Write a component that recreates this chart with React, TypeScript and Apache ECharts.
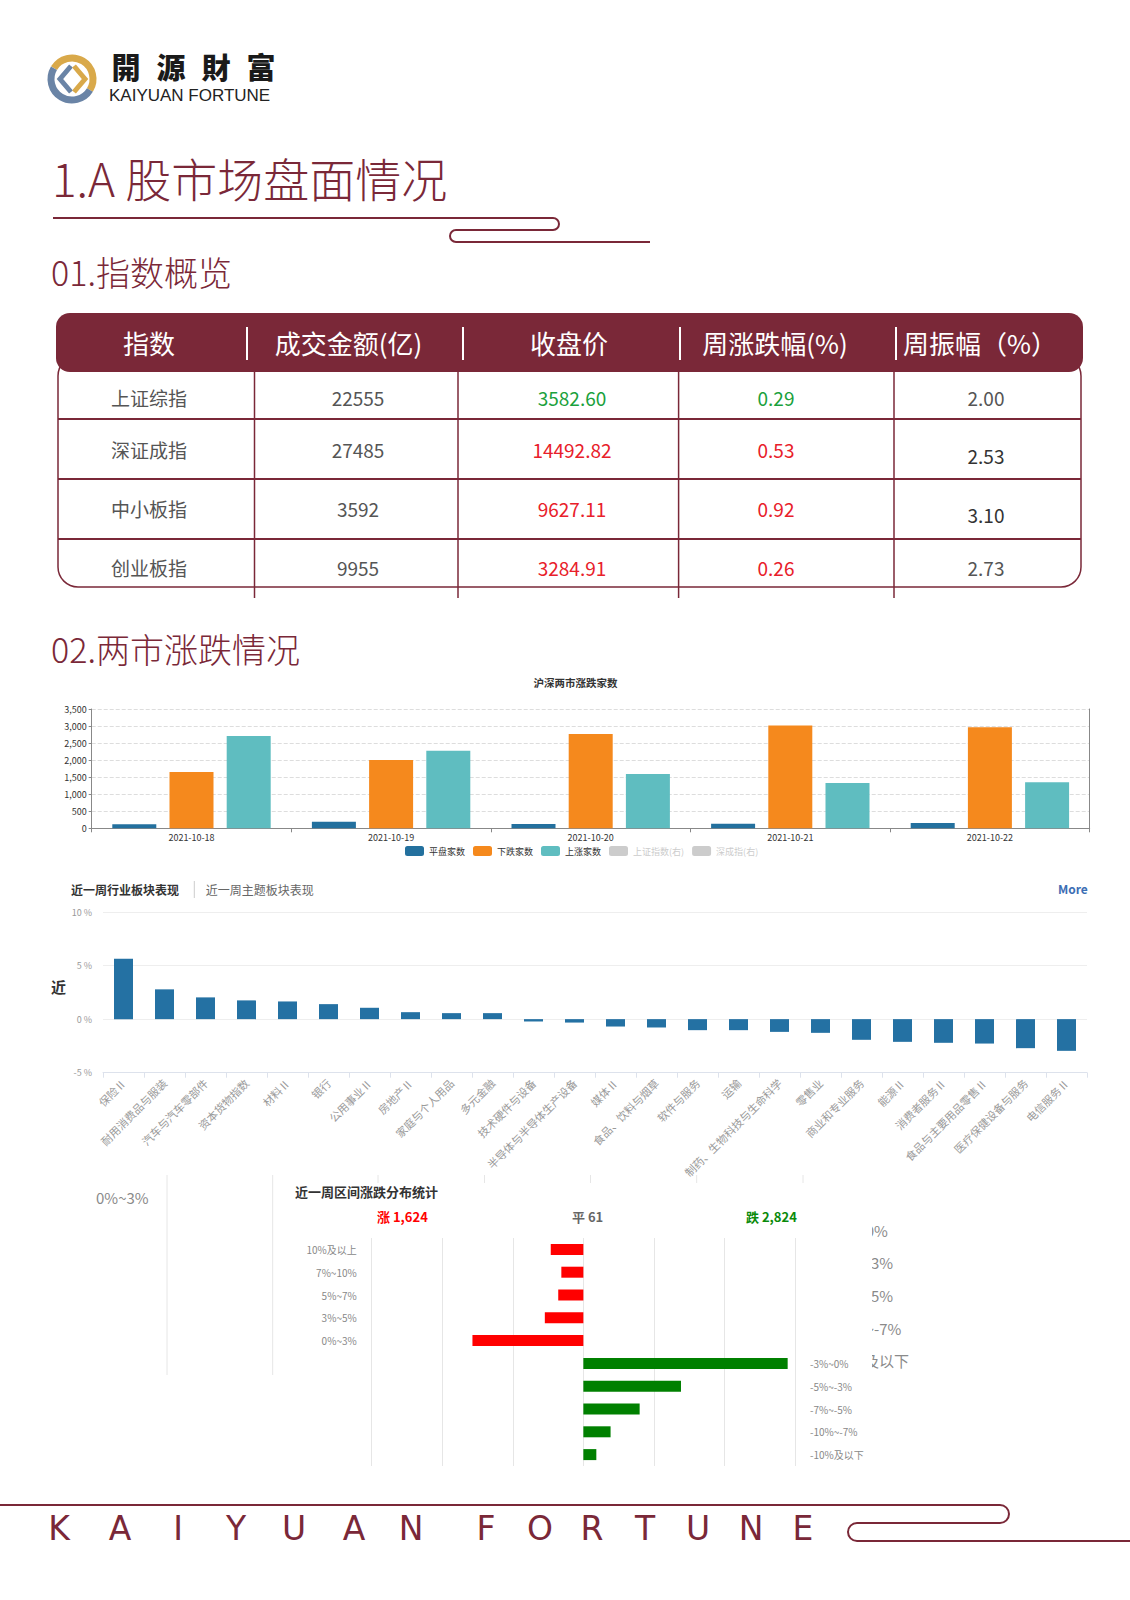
import React, { useEffect, useRef } from 'react';
import * as echarts from 'echarts';

const MAROON = '#7a2838';
const FONT = '"Noto Sans CJK SC", "Noto Sans", sans-serif';

// ---- Table data ----
const tableHeaders = ['指数', '成交金额(亿)', '收盘价', '周涨跌幅(%)', '周振幅（%）'];
const indexNames = ['上证综指', '深证成指', '中小板指', '创业板指'];
const turnover = ['22555', '27485', '3592', '9955'];
const closePrices = ['3582.60', '14492.82', '9627.11', '3284.91'];
const weekChange = ['0.29', '0.53', '0.92', '0.26'];
const amplitude = ['2.00', '2.53', '3.10', '2.73'];
const valueColors = ['#1aa13c', '#e8202a', '#e8202a', '#e8202a'];

// ---- Chart 1: 沪深两市涨跌家数 ----
const tradeDates = ['2021-10-18', '2021-10-19', '2021-10-20', '2021-10-21', '2021-10-22'];
const flatCounts = [117, 195, 126, 137, 155];
const downCounts = [1650, 2001, 2763, 3018, 2968];
const upCounts = [2705, 2276, 1591, 1327, 1348];
const marketLegend = ['平盘家数', '下跌家数', '上涨家数', '上证指数(右)', '深成指(右)'];

// ---- Chart 2: 近一周行业板块表现 ----
const industries = ['保险Ⅱ', '耐用消费品与服装', '汽车与汽车零部件', '资本货物指数', '材料Ⅱ', '银行', '公用事业Ⅱ', '房地产Ⅱ', '家庭与个人用品', '多元金融', '技术硬件与设备', '半导体与半导体生产设备', '媒体Ⅱ', '食品、饮料与烟草', '软件与服务', '运输', '制药、生物科技与生命科学', '零售业', '商业和专业服务', '能源Ⅱ', '消费者服务Ⅱ', '食品与主要用品零售Ⅱ', '医疗保健设备与服务', '电信服务Ⅱ'];
const industryChanges = [5.64, 2.78, 2.03, 1.75, 1.65, 1.4, 1.06, 0.65, 0.56, 0.56, -0.22, -0.32, -0.69, -0.78, -1.03, -1.03, -1.19, -1.28, -1.93, -2.12, -2.21, -2.28, -2.71, -2.96];

// ---- Chart 3: 近一周区间涨跌分布统计 ----
const rangeLabels = ['10%及以上', '7%~10%', '5%~7%', '3%~5%', '0%~3%', '-3%~0%', '-5%~-3%', '-7%~-5%', '-10%~-7%', '-10%及以下'];
const riseCounts = [231, 156, 178, 273, 786];
const fallCounts = [1448, 692, 399, 193, 92];
const riseTotal = 1624;
const flatTotal = 61;
const fallTotal = 2824;
const ghostRightLabels = ['-3%~0%', '-5%~-3%', '-7%~-5%', '-10%~-7%', '及以下'];

const footerLetters = ['K', 'A', 'I', 'Y', 'U', 'A', 'N', 'F', 'O', 'R', 'T', 'U', 'N', 'E'];

echarts.graphic.registerShape(
  'titleDeco',
  echarts.graphic.extendPath('M53 218 L553 218 A6 6 0 0 1 553 230 L456 230 A6 6 0 0 0 456 242 L650 242', {})
);
echarts.graphic.registerShape(
  'footDeco',
  echarts.graphic.extendPath('M0 1505 L1000 1505 A9 9 0 0 1 1000 1523 L857 1523 A9 9 0 0 0 857 1541 L1130 1541', {})
);

function txt(text: string, x: number, y: number, size: number, color: string, o: any = {}) {
  const align = o.align || 'left';
  return {
    type: 'text',
    z: o.z ?? 10,
    silent: true,
    style: {
      text,
      x,
      y,
      fill: color,
      font: `${o.weight || 'normal'} ${size}px ${o.family || FONT}`,
      align,
      verticalAlign: 'middle',
      textAlign: align,
      textVerticalAlign: 'middle',
    },
  };
}

function line(x1: number, y1: number, x2: number, y2: number, color: string, w: number, z = 10) {
  return { type: 'line', z, silent: true, shape: { x1, y1, x2, y2 }, style: { stroke: color, lineWidth: w } };
}

function buildGraphics() {
  const g: any[] = [];
  // Logo
  g.push({ type: 'arc', z: 10, shape: { cx: 72, cy: 79, r: 21, startAngle: -2.6, endAngle: 0.55, clockwise: true }, style: { stroke: '#d9a94a', lineWidth: 7, fill: 'none' } });
  g.push({ type: 'arc', z: 10, shape: { cx: 72, cy: 79, r: 21, startAngle: 0.55, endAngle: 3.68, clockwise: true }, style: { stroke: '#6a84a6', lineWidth: 7, fill: 'none' } });
  g.push({ type: 'polyline', z: 10, shape: { points: [[71, 66], [60, 79], [71, 92]] }, style: { stroke: '#6a84a6', lineWidth: 5, fill: 'none' } });
  g.push({ type: 'polyline', z: 10, shape: { points: [[74, 66], [85, 79], [74, 92]] }, style: { stroke: '#d9a94a', lineWidth: 5, fill: 'none' } });
  ['開', '源', '財', '富'].forEach((c, i) => g.push(txt(c, 126 + i * 45, 66, 29, '#1a1a1a', { align: 'center', weight: '900', family: '"Noto Sans CJK TC", sans-serif' })));
  g.push(txt('KAIYUAN FORTUNE', 109, 95.5, 17, '#222', { family: '"Liberation Sans", sans-serif' }));

  // Titles
  g.push(txt('1.A 股市场盘面情况', 52, 177, 46, MAROON, { weight: '300' }));
  g.push({ type: 'titleDeco', z: 10, style: { stroke: MAROON, lineWidth: 2, fill: 'none' } });
  g.push(txt('01.指数概览', 51, 271, 34, MAROON, { weight: '300' }));
  g.push(txt('02.两市涨跌情况', 51, 648, 34, MAROON, { weight: '300' }));

  // Table body outline
  g.push({ type: 'rect', z: 8, shape: { x: 58, y: 356, width: 1023, height: 231, r: 20 }, style: { stroke: MAROON, lineWidth: 1.5, fill: 'none' } });
  // Header
  g.push({ type: 'rect', z: 9, shape: { x: 56, y: 313, width: 1027, height: 59, r: 14 }, style: { fill: MAROON } });
  const headX = [149, 348.5, 569, 775, 980];
  tableHeaders.forEach((h, i) => g.push(txt(h, headX[i], 342, 26, '#fff', { align: 'center' })));
  [247, 463, 680, 896].forEach((x) => g.push(line(x, 327, x, 360, '#fff', 2)));
  [419, 479, 539].forEach((y) => g.push(line(58, y, 1081, y, MAROON, 2)));
  [254.5, 458, 678.6, 894].forEach((x) => g.push(line(x, 372, x, 598, MAROON, 1.5)));
  const rowY = [397.5, 449.5, 508.5, 567.5];
  const ampDy = [0, 6, 6, 0];
  const colX = [149, 358, 572, 776, 986];
  indexNames.forEach((n, r) => {
    g.push(txt(n, colX[0], rowY[r], 19, '#555', { align: 'center' }));
    g.push(txt(turnover[r], colX[1], rowY[r], 19, '#555', { align: 'center' }));
    g.push(txt(closePrices[r], colX[2], rowY[r], 19, valueColors[r], { align: 'center' }));
    g.push(txt(weekChange[r], colX[3], rowY[r], 19, valueColors[r], { align: 'center' }));
    g.push(txt(amplitude[r], colX[4], rowY[r] + ampDy[r], 19, ampDy[r] ? '#333' : '#555', { align: 'center' }));
  });

  // Chart 1 title
  g.push(txt('沪深两市涨跌家数', 575.5, 682, 10.5, '#333', { align: 'center', weight: 'bold' }));

  // Chart 2 header
  g.push(txt('近一周行业板块表现', 71, 889, 12, '#333', { weight: 'bold' }));
  g.push(line(194.3, 881, 194.3, 898, '#ccc', 1));
  g.push(txt('近一周主题板块表现', 205.7, 889, 12, '#666'));
  g.push(txt('More', 1058, 888, 12, '#3c6eb4', { weight: 'bold' }));
  g.push(txt('近', 51, 986, 15, '#333', { weight: 'bold' }));

  // Ghost chart behind distribution chart
  [167, 272.7, 378, 484.5, 590.5, 696.7, 803].forEach((x) => g.push(line(x, 1175, x, 1375, '#e6e6e6', 1, -10)));
  g.push(txt('0%~3%', 96, 1197, 15, '#8a8a8a', { z: -10 }));
  const ghostY = [1230, 1262, 1295, 1328, 1360];
  const ghostX = [830, 830, 830, 830, 864];
  ghostRightLabels.forEach((t, i) => g.push(txt(t, ghostX[i], ghostY[i], 15, '#8a8a8a', { z: -10 })));
  g.push({ type: 'rect', z: -5, silent: true, shape: { x: 285, y: 1183, width: 587, height: 297 }, style: { fill: '#fff' } });

  // Distribution chart header
  g.push(txt('近一周区间涨跌分布统计', 295, 1191, 13, '#333', { weight: 'bold' }));
  g.push(txt(`涨 ${riseTotal.toLocaleString('en-US')}`, 377, 1216, 13, '#ff0000', { weight: 'bold' }));
  g.push(txt(`平 ${flatTotal.toLocaleString('en-US')}`, 572, 1216, 13, '#666', { weight: 'bold' }));
  g.push(txt(`跌 ${fallTotal.toLocaleString('en-US')}`, 746, 1216, 13, '#0a8a0a', { weight: 'bold' }));

  // Footer
  g.push({ type: 'footDeco', z: 10, style: { stroke: MAROON, lineWidth: 2, fill: 'none' } });
  const letterX = [59, 120, 178, 236, 294, 354, 411, 486, 540, 592, 645, 698, 751, 803];
  footerLetters.forEach((c, i) => g.push(txt(c, letterX[i], 1528, 33, MAROON, { align: 'center', family: '"DejaVu Sans", sans-serif' })));
  return g;
}

export default function App() {
  const ref = useRef<HTMLDivElement>(null);
  useEffect(() => {
    if (!ref.current) return;
    const chart = echarts.init(ref.current, undefined, { renderer: 'svg' });
    const option: any = {
      animation: false,
      backgroundColor: '#fff',
      textStyle: { fontFamily: FONT },
      graphic: { elements: buildGraphics() },
      legend: {
        left: 400,
        top: 841,
        icon: 'roundRect',
        itemWidth: 19,
        itemHeight: 10,
        itemGap: 8,
        inactiveColor: '#ccc',
        textStyle: { fontSize: 9, color: '#333' },
        data: marketLegend,
        selected: { '上证指数(右)': false, '深成指(右)': false },
      },
      grid: [
        { left: 91.7, top: 709, width: 998, height: 119.3 },
        { left: 103, top: 912, width: 984, height: 160.7 },
        { left: 371.7, top: 1238, width: 423.3, height: 228 },
      ],
      xAxis: [
        {
          type: 'category',
          gridIndex: 0,
          data: tradeDates,
          axisLine: { lineStyle: { color: '#888' } },
          axisTick: { show: true, length: 4, lineStyle: { color: '#888' } },
          axisLabel: { fontSize: 9, color: '#333', margin: 5 },
        },
        {
          type: 'category',
          gridIndex: 1,
          data: industries,
          axisLine: { onZero: false, lineStyle: { color: '#dde2ec' } },
          axisTick: { show: true, length: 5, lineStyle: { color: '#dde2ec' } },
          axisLabel: { rotate: 45, interval: 0, fontSize: 11, color: '#9a9a9a', margin: 8 },
        },
        {
          type: 'value',
          gridIndex: 2,
          min: -1500,
          max: 1500,
          interval: 500,
          axisLabel: { show: false },
          axisLine: { show: false },
          axisTick: { show: false },
          splitLine: { lineStyle: { color: '#e6e6e6' } },
        },
      ],
      yAxis: [
        {
          type: 'value',
          gridIndex: 0,
          min: 0,
          max: 3500,
          interval: 500,
          axisLine: { show: true, lineStyle: { color: '#888' } },
          axisTick: { show: true, length: 3, lineStyle: { color: '#888' } },
          axisLabel: { fontSize: 9, color: '#333', margin: 5, formatter: (v: number) => v.toLocaleString('en-US') },
          splitLine: { lineStyle: { color: '#ddd', type: 'dashed' } },
        },
        {
          type: 'value',
          gridIndex: 0,
          position: 'right',
          min: 0,
          max: 1,
          axisLine: { show: true, lineStyle: { color: '#888' } },
          axisTick: { show: false },
          axisLabel: { show: false },
          splitLine: { show: false },
        },
        {
          type: 'value',
          gridIndex: 1,
          min: -5,
          max: 10,
          interval: 5,
          axisLine: { show: false },
          axisTick: { show: false },
          axisLabel: { fontSize: 9, color: '#999', margin: 11, formatter: (v: number) => `${v} %` },
          splitLine: { lineStyle: { color: '#eeeeee' } },
        },
        {
          type: 'category',
          gridIndex: 2,
          inverse: true,
          data: rangeLabels,
          axisLine: { show: false },
          axisTick: { show: false },
          axisLabel: { fontSize: 10, color: '#888', margin: 15, interval: 0, formatter: (v: string, i: number) => (i < 5 ? v : '') },
        },
        {
          type: 'category',
          gridIndex: 2,
          position: 'right',
          inverse: true,
          data: rangeLabels,
          axisLine: { show: false },
          axisTick: { show: false },
          axisLabel: { fontSize: 10, color: '#888', margin: 15, interval: 0, formatter: (v: string, i: number) => (i >= 5 ? v : '') },
        },
      ],
      series: [
        { name: '平盘家数', type: 'bar', xAxisIndex: 0, yAxisIndex: 0, data: flatCounts, barWidth: 44, barGap: '30%', itemStyle: { color: '#23709e' } },
        { name: '下跌家数', type: 'bar', xAxisIndex: 0, yAxisIndex: 0, data: downCounts, barWidth: 44, barGap: '30%', itemStyle: { color: '#f5891d' } },
        { name: '上涨家数', type: 'bar', xAxisIndex: 0, yAxisIndex: 0, data: upCounts, barWidth: 44, barGap: '30%', itemStyle: { color: '#5fbdc0' } },
        { name: '上证指数(右)', type: 'line', xAxisIndex: 0, yAxisIndex: 1, data: [], itemStyle: { color: '#bbb' } },
        { name: '深成指(右)', type: 'line', xAxisIndex: 0, yAxisIndex: 1, data: [], itemStyle: { color: '#bbb' } },
        { name: '行业涨跌幅', type: 'bar', xAxisIndex: 1, yAxisIndex: 2, data: industryChanges, barWidth: 19, itemStyle: { color: '#2471a3' } },
        {
          name: '涨',
          type: 'bar',
          xAxisIndex: 2,
          yAxisIndex: 3,
          stack: 'dist',
          barWidth: 11,
          data: [...riseCounts.map((v) => -v), '-', '-', '-', '-', '-'],
          itemStyle: { color: '#ff0000' },
        },
        {
          name: '跌',
          type: 'bar',
          xAxisIndex: 2,
          yAxisIndex: 3,
          stack: 'dist',
          barWidth: 11,
          data: ['-', '-', '-', '-', '-', ...fallCounts],
          itemStyle: { color: '#008000' },
        },
      ],
    };
    chart.setOption(option);
    return () => chart.dispose();
  }, []);
  return <div ref={ref} style={{ position: 'absolute', left: 0, top: 0, width: 1130, height: 1600 }} />;
}
